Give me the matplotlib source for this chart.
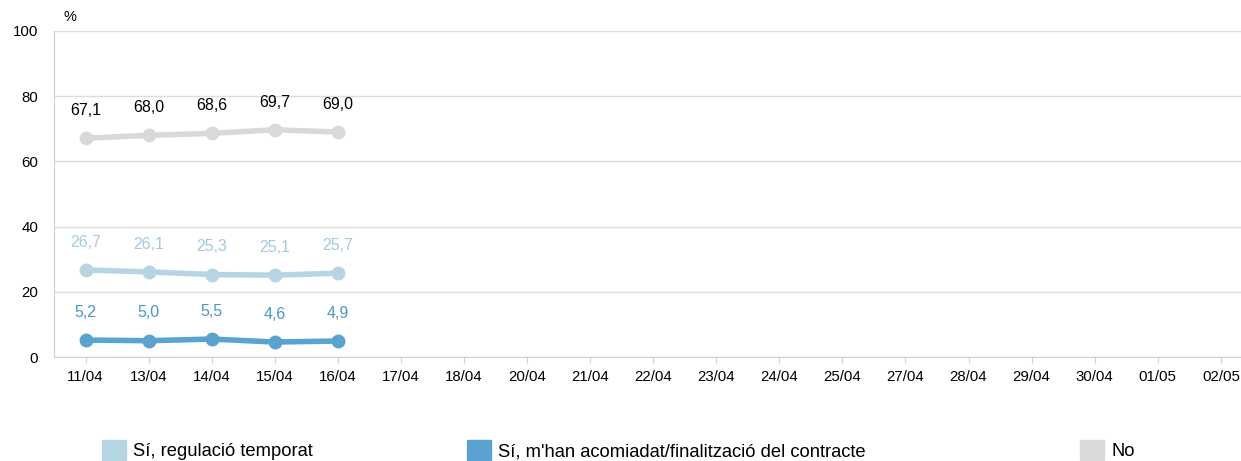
import matplotlib.pyplot as plt
from matplotlib.patches import Patch

plt.rcParams['font.family'] = ['Liberation Sans', 'DejaVu Sans']

dates = ["11/04", "13/04", "14/04", "15/04", "16/04", "17/04", "18/04", "20/04",
         "21/04", "22/04", "23/04", "24/04", "25/04", "27/04", "28/04", "29/04",
         "30/04", "01/05", "02/05"]

series_names = ["Sí, regulació temporat",
                "Sí, m'han acomiadat/finalització del contracte",
                "No"]
regulacio = [26.7, 26.1, 25.3, 25.1, 25.7]
acomiadat = [5.2, 5.0, 5.5, 4.6, 4.9]
no_vals = [67.1, 68.0, 68.6, 69.7, 69.0]

line_colors = ["#b5d5e2", "#5aa2d0", "#d9d9d9"]
label_colors = ["#a3cade", "#4a97cc", "#000000"]

fig = plt.figure(figsize=(12.41, 4.61), dpi=100)
ax = fig.add_axes([54 / 1241, 1 - 357 / 461, (1241 - 54) / 1241, (357 - 31) / 461])

x = list(range(len(dates)))
for vals, lc, tc in zip([regulacio, acomiadat, no_vals], line_colors, label_colors):
    xs = x[:len(vals)]
    ax.plot(xs, vals, color=lc, lw=4, marker="o", ms=9, solid_capstyle="round", zorder=3)
    for xi, v in zip(xs, vals):
        ax.annotate(f"{v:.1f}".replace(".", ","), (xi, v), xytext=(0, 20),
                    textcoords="offset points", ha="center", va="center",
                    fontsize=11.5, color=tc)

ax.set_ylim(0, 100)
ax.set_yticks([0, 20, 40, 60, 80, 100])
ax.set_xlim(-0.5, 18.32)
ax.set_xticks(x)
ax.set_xticklabels(dates)
ax.grid(axis="y", color="#dcdcdc", lw=1)
ax.set_axisbelow(True)
for s in ["top", "right"]:
    ax.spines[s].set_visible(False)
ax.spines["left"].set_color("#d0d0d0")
ax.spines["bottom"].set_color("#d0d0d0")
ax.tick_params(axis="y", length=0, pad=11.5, labelsize=10.8)
ax.tick_params(axis="x", length=4, color="#d0d0d0", pad=5, labelsize=10.8)

fig.text(64 / 1241, 1 - 17 / 461, "%", fontsize=10.5, ha="left", va="center")

legend_x = [102 / 1241, 467 / 1241, 1080 / 1241]
for name, lc, lx in zip(series_names, line_colors, legend_x):
    fig.legend(handles=[Patch(color=lc, label=name)], loc="center left",
               bbox_to_anchor=(lx, 1 - 450 / 461), frameon=False, fontsize=13.2,
               handlelength=1.3, handleheight=1.3, handletextpad=0.4,
               borderaxespad=0, borderpad=0)

fig.savefig("out.png", dpi=100)
